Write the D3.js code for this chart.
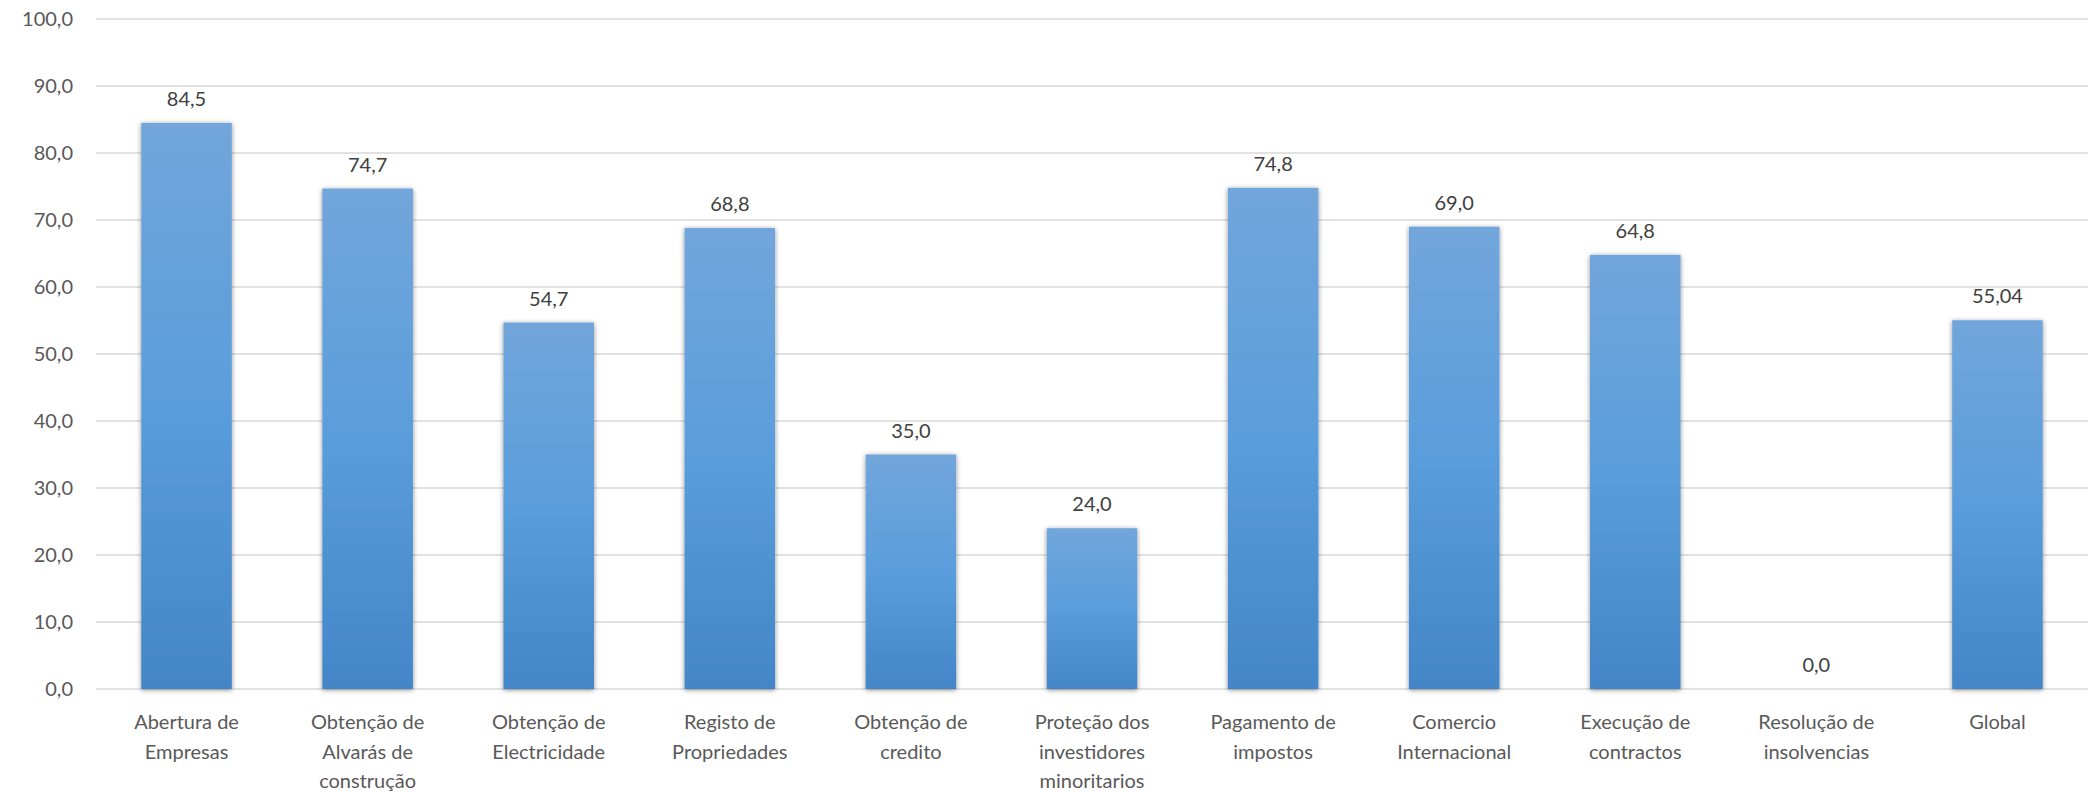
<!DOCTYPE html>
<html>
<head>
<meta charset="utf-8">
<script src="https://cdn.jsdelivr.net/npm/d3@7"></script>
<style>
  body { margin: 0; background: #fff; }
  svg text { font-family: Lato, "Open Sans", sans-serif; }
</style>
</head>
<body>
<div id="chart"></div>
<script>
// categorias (quebras de linha como no original)
var categorias = [
  'Abertura de\nEmpresas',
  'Obtenção de\nAlvarás de\nconstrução',
  'Obtenção de\nElectricidade',
  'Registo de\nPropriedades',
  'Obtenção de\ncredito',
  'Proteção dos\ninvestidores\nminoritarios',
  'Pagamento de\nimpostos',
  'Comercio\nInternacional',
  'Execução de\ncontractos',
  'Resolução de\ninsolvencias',
  'Global'
]
var valores = [84.5, 74.7, 54.7, 68.8, 35.0, 24.0, 74.8, 69.0, 64.8, 0.0, 55.04]
var rotulos = ['84,5', '74,7', '54,7', '68,8', '35,0', '24,0', '74,8', '69,0', '64,8', '0,0', '55,04']
var ticksY = [0, 10, 20, 30, 40, 50, 60, 70, 80, 90, 100]

var W = 2098, H = 793
var m = {left: 96, right: 10, top: 19, bottom: 104}

var svg = d3.select('#chart').append('svg')
  .attr('width', W).attr('height', H)

var defs = svg.append('defs')
var grad = defs.append('linearGradient')
  .attr('id', 'gradBar').attr('x1', 0).attr('y1', 0).attr('x2', 0).attr('y2', 1)
grad.append('stop').attr('offset', '0%').attr('stop-color', '#72a6db')
grad.append('stop').attr('offset', '50%').attr('stop-color', '#5a9ddc')
grad.append('stop').attr('offset', '100%').attr('stop-color', '#4386c7')

var sombra = defs.append('filter').attr('id', 'sombra')
  .attr('x', '-20%').attr('y', '-10%').attr('width', '140%').attr('height', '120%')
sombra.append('feDropShadow')
  .attr('dx', 0).attr('dy', 1).attr('stdDeviation', 2.5)
  .attr('flood-color', '#000').attr('flood-opacity', 0.45)

var x = d3.scaleBand()
  .domain(categorias)
  .range([m.left, W - m.right])
  .paddingInner(0.5).paddingOuter(0.25)

var y = d3.scaleLinear()
  .domain([0, 100])
  .range([H - m.bottom, m.top])

// grelha
svg.append('g').selectAll('line')
  .data(ticksY)
  .enter().append('line')
  .attr('x1', m.left).attr('x2', W - m.right)
  .attr('y1', function(d){ return y(d) }).attr('y2', function(d){ return y(d) })
  .attr('stroke', '#d9d9d9').attr('stroke-width', 1.5)

// eixo y
svg.append('g').selectAll('text')
  .data(ticksY)
  .enter().append('text')
  .attr('x', 73).attr('y', function(d){ return y(d) })
  .attr('dy', '0.35em')
  .attr('text-anchor', 'end')
  .attr('font-size', 20).attr('fill', '#595959')
  .text(function(d){ return d3.format('.1f')(d).replace('.', ',') })

// barras
svg.append('g').selectAll('rect')
  .data(valores)
  .enter().append('rect')
  .attr('x', function(d, i){ return x(categorias[i]) })
  .attr('width', x.bandwidth())
  .attr('y', function(d){ return y(d) })
  .attr('height', function(d){ return y(0) - y(d) })
  .attr('fill', 'url(#gradBar)')
  .attr('filter', 'url(#sombra)')
  .style('display', function(d){ return d > 0 ? null : 'none' })

// rotulos de dados
svg.append('g').selectAll('text')
  .data(valores)
  .enter().append('text')
  .attr('x', function(d, i){ return x(categorias[i]) + x.bandwidth() / 2 })
  .attr('y', function(d){ return y(d) - 17 })
  .attr('text-anchor', 'middle')
  .attr('font-size', 20).attr('fill', '#404040')
  .text(function(d, i){ return rotulos[i] })

// categorias no eixo x
var cat = svg.append('g').selectAll('text')
  .data(categorias)
  .enter().append('text')
  .attr('x', function(d){ return x(d) + x.bandwidth() / 2 })
  .attr('y', 729)
  .attr('text-anchor', 'middle')
  .attr('font-size', 20).attr('fill', '#595959')
cat.each(function(d){
  var t = d3.select(this)
  d.split('\n').forEach(function(linha, k){
    t.append('tspan')
      .attr('x', t.attr('x'))
      .attr('dy', k === 0 ? 0 : 29.5)
      .text(linha)
  })
})
</script>
</body>
</html>
